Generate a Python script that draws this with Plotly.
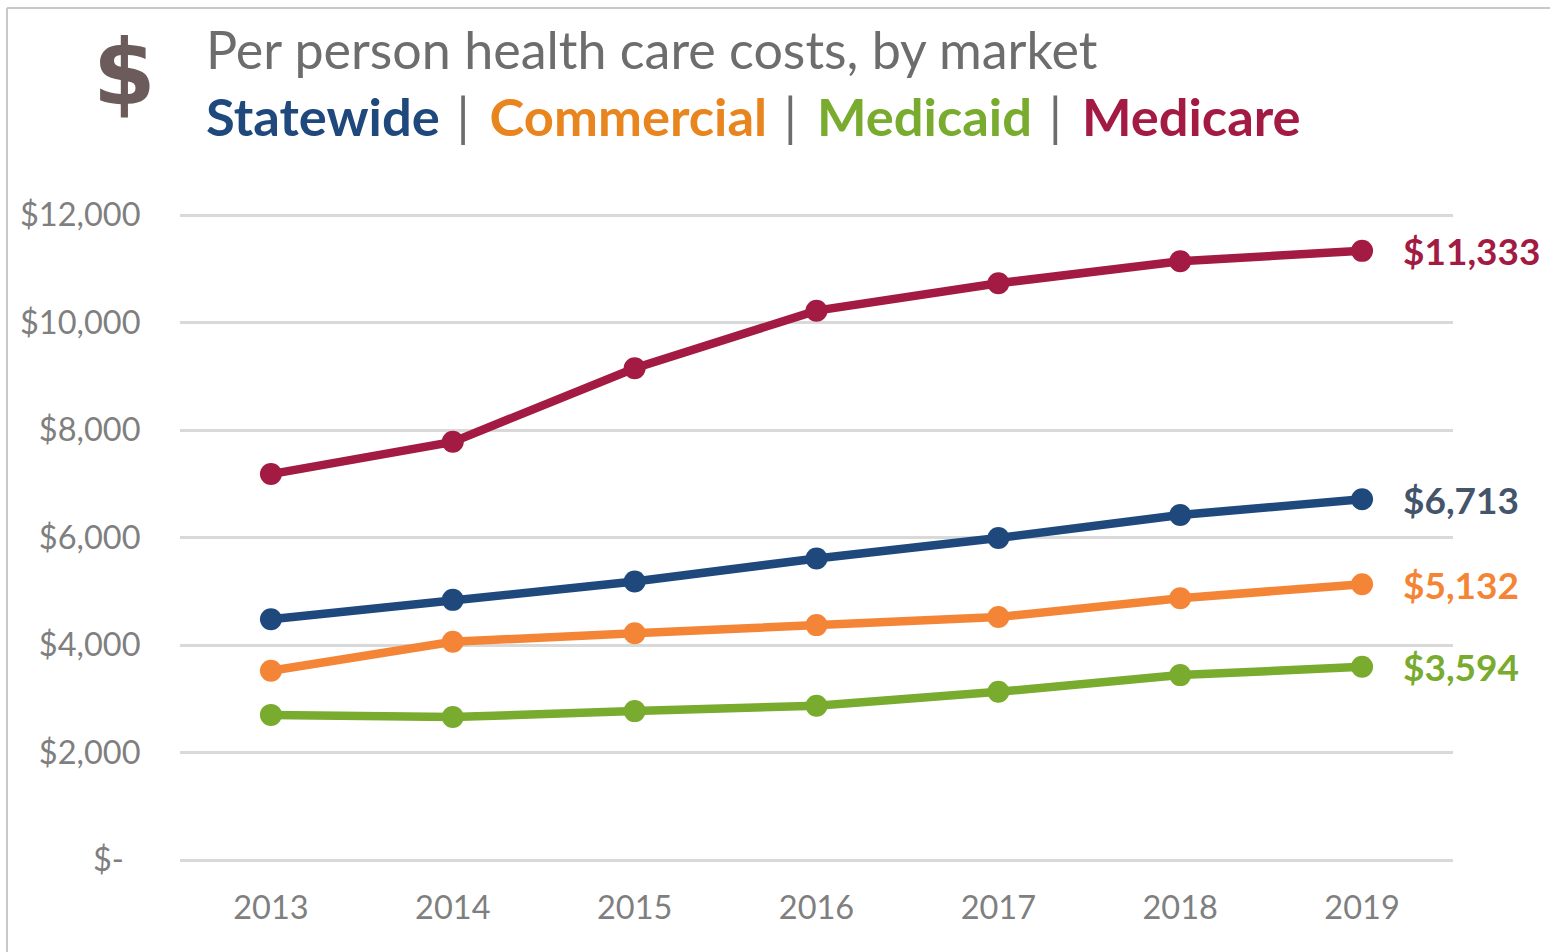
import plotly.graph_objects as go

years = ["2013", "2014", "2015", "2016", "2017", "2018", "2019"]
statewide = [4480, 4840, 5180, 5610, 5990, 6420, 6713]
commercial = [3520, 4060, 4220, 4370, 4520, 4870, 5132]
medicaid = [2700, 2660, 2770, 2870, 3130, 3440, 3594]
medicare = [7180, 7780, 9150, 10220, 10730, 11140, 11333]
tick_vals = [0, 2000, 4000, 6000, 8000, 10000, 12000]
tick_text = ["$-\u00a0\u00a0", "$2,000", "$4,000", "$6,000", "$8,000", "$10,000", "$12,000"]
title_text = "Per person health care costs, by market"
FONT = "Lato"

L, R, T, B = 180, 1453, 213, 862
def px(x):
    return (x - L) / (R - L)
def py(y):
    return (B - y) / (B - T)

series = [
    ("Medicare", medicare, "#A31A43", "#A31A43", "$11,333"),
    ("Statewide", statewide, "#1F497D", "#44546A", "$6,713"),
    ("Commercial", commercial, "#F58536", "#F58536", "$5,132"),
    ("Medicaid", medicaid, "#78AB2E", "#78AB2E", "$3,594"),
]

fig = go.Figure()
for name, vals, col, lab, end in series:
    fig.add_trace(go.Scatter(
        x=years, y=vals, mode="lines+markers", name=name,
        line=dict(color=col, width=8.5), marker=dict(color=col, size=22),
        cliponaxis=False,
    ))
    fig.add_annotation(x=len(years) - 1, y=vals[-1], text=f"<b>{end}</b>", showarrow=False,
                       xanchor="left", yanchor="middle", xshift=39,
                       font=dict(family=FONT, size=37, color=lab))

sep = "\u200a|\u200a\u200a"
fig.update_layout(
    width=1550, height=952, showlegend=False, paper_bgcolor="white", plot_bgcolor="white",
    margin=dict(l=L, r=1550 - R, t=T, b=952 - B),
    font=dict(family=FONT, color="#7F7F7F", size=32.5),
    xaxis=dict(type="category", range=[-0.5, 6.5], showgrid=False, zeroline=False,
               ticks="outside", ticklen=17, tickcolor="rgba(0,0,0,0)", showline=False,
               tickfont=dict(family=FONT, size=32.5, color="#7F7F7F")),
    yaxis=dict(range=[-37.2, 12037.2], tickvals=tick_vals, ticktext=tick_text, showgrid=True,
               gridcolor="#D9D9D9", gridwidth=3, zeroline=False,
               ticks="outside", ticklen=32, tickcolor="rgba(0,0,0,0)",
               tickfont=dict(family=FONT, size=32.5, color="#7F7F7F")),
    shapes=[
        dict(type="line", xref="paper", yref="paper", x0=px(7), x1=px(7), y0=py(952), y1=py(8),
             line=dict(color="#C8C8C8", width=2)),
        dict(type="line", xref="paper", yref="paper", x0=px(7), x1=px(1550), y0=py(8), y1=py(8),
             line=dict(color="#C8C8C8", width=2)),
    ],
)
fig.add_annotation(text="<b>$</b>", xref="paper", yref="paper", x=px(124), y=py(72), showarrow=False,
                   xanchor="center", yanchor="middle", font=dict(family="DejaVu Sans", size=90, color="#6B5B5B"))
fig.add_annotation(text=title_text, xref="paper", yref="paper", x=px(204), y=py(49), showarrow=False,
                   xanchor="left", yanchor="middle", font=dict(family=FONT, size=52, color="#6D6D6D"))
fig.add_annotation(
    text="<b><span style='color:#1F497D'>Statewide</span></b> " + sep + " <b><span style='color:#E8851E'>Commercial</span></b> " + sep + " "
         "<b><span style='color:#78AB2E'>Medicaid</span></b> " + sep + " <b><span style='color:#A31A43'>Medicare</span></b>",
    xref="paper", yref="paper", x=px(204), y=py(115), showarrow=False, xanchor="left", yanchor="middle",
    font=dict(family=FONT, size=52.5, color="#6D6D6D"))
fig.write_html("out.html", post_script="document.body.style.margin='0';", config={"displayModeBar": False})
